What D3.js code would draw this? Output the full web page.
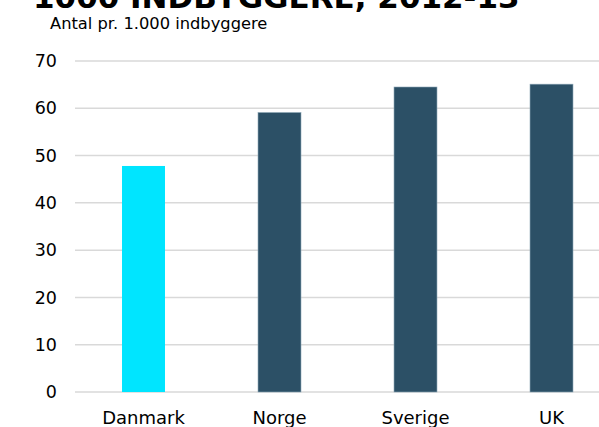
<!DOCTYPE html>
<html><head><meta charset="utf-8">
<script src="https://cdn.jsdelivr.net/npm/d3@7"></script>
<style>body{margin:0;background:#fff;} svg{display:block;font-family:Verdana,"DejaVu Sans",sans-serif;}</style>
</head><body>
<svg id="c" width="599" height="427"></svg>
<script>
const categories = ["Danmark", "Norge", "Sverige", "UK"];
const values = [47.8, 59.1, 64.5, 65.1];
const barColors = ["#00e5ff", "#2c5066", "#2c5066", "#2c5066"];
const yTicks = [0, 10, 20, 30, 40, 50, 60, 70];
const title = "1000 INDBYGGERE, 2012-13";
const subtitle = "Antal pr. 1.000 indbyggere";

const svg = d3.select("#c");
const x = d3.scaleBand().domain(categories).range([75.5, 619.5]).paddingInner(0.684).paddingOuter(0.342);
const y = d3.scaleLinear().domain([0, 70]).range([392, 61]);

svg.append("text").attr("x", 33).attr("y", 8).attr("font-size", 31).attr("font-weight", "bold").attr("fill", "#000").text(title);
svg.append("text").attr("x", 50).attr("y", 28.5).attr("font-size", 16.3).attr("fill", "#000").text(subtitle);

const grid = svg.append("g");
grid.selectAll("line").data(yTicks).join("line")
  .attr("x1", 75).attr("x2", 599)
  .attr("y1", d => y(d)).attr("y2", d => y(d))
  .attr("stroke", "#d9d9d9").attr("stroke-width", 1.5);

const yAxis = svg.append("g").attr("transform", "translate(75,0)")
  .call(d3.axisLeft(y).tickValues(yTicks).tickSize(0).tickPadding(18));
yAxis.select(".domain").remove();
yAxis.selectAll("text").attr("font-size", 17.5).attr("fill", "#000").attr("font-family", "Verdana,'DejaVu Sans',sans-serif");

svg.append("g").selectAll("rect").data(categories).join("rect")
  .attr("x", d => x(d)).attr("width", x.bandwidth())
  .attr("y", (d, i) => y(values[i])).attr("height", (d, i) => y(0) - y(values[i]))
  .attr("fill", (d, i) => barColors[i])
  .attr("stroke", (d, i) => i === 0 ? "none" : "#8aa4b4").attr("stroke-width", 0.6);

const xAxis = svg.append("g").attr("transform", "translate(0,392)")
  .call(d3.axisBottom(x).tickSize(0).tickPadding(0));
xAxis.select(".domain").remove();
xAxis.selectAll("text").attr("font-size", 18).attr("fill", "#000").attr("dy", null).attr("y", 32)
  .attr("font-family", "Verdana,'DejaVu Sans',sans-serif");
</script>
</body></html>
